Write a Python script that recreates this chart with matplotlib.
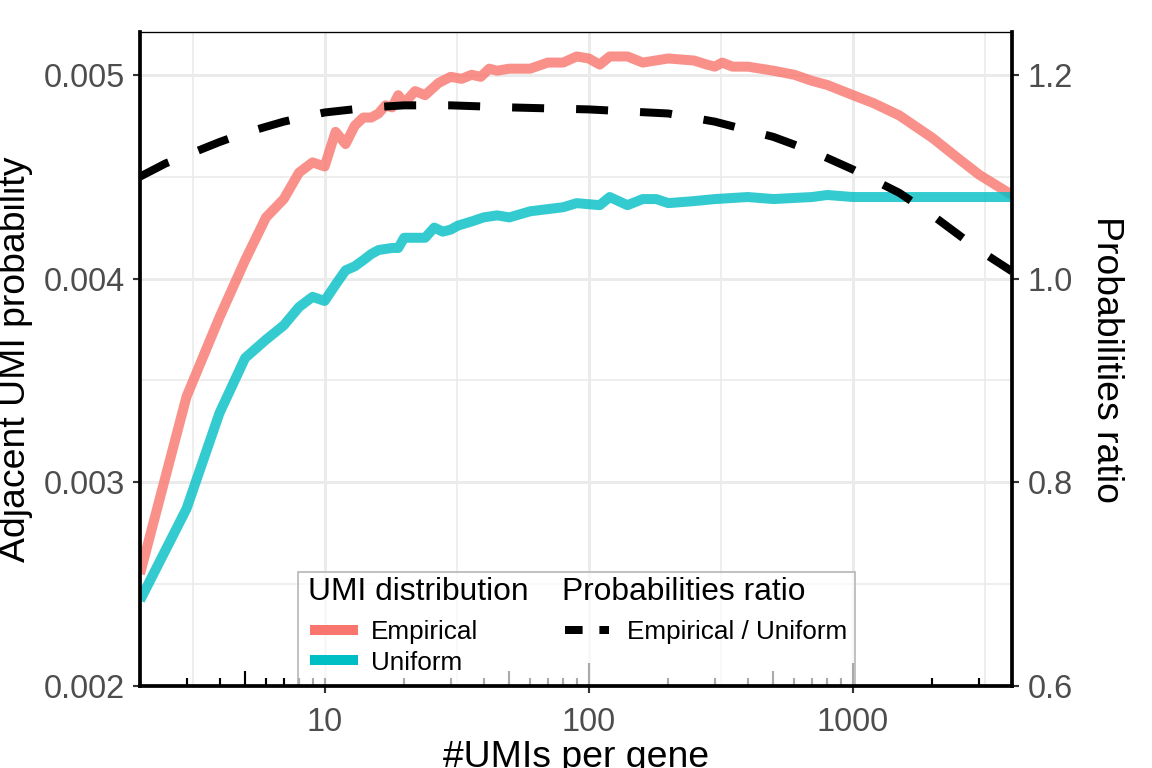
import matplotlib
matplotlib.use("Agg")
import matplotlib.pyplot as plt
from matplotlib.lines import Line2D
from matplotlib.patches import Rectangle
from matplotlib.ticker import FixedLocator, NullFormatter, FormatStrFormatter

plt.rcParams["font.family"] = ["Liberation Sans", "DejaVu Sans"]

# ── Data ───────────────────────────────────────────────────────
emp_x = [2, 3, 4, 5, 6, 7, 8, 9, 10, 11, 12, 13, 14, 15, 16, 17, 18, 19, 20,
         22, 24, 27, 30, 33, 36, 39, 42, 45, 50,
         60, 70, 80, 90, 100, 110, 120, 140, 160, 200,
         250, 280, 300, 320, 350, 400, 500, 600, 700, 800,
         1000, 1200, 1500, 2000, 2500, 3000, 4000]
emp_y = [0.00255, 0.00342, 0.00381, 0.00409, 0.00430, 0.00439, 0.00452, 0.00457, 0.00455,
         0.00472, 0.00466, 0.00475, 0.00479, 0.00479, 0.00481, 0.00485, 0.00484, 0.00490, 0.00486,
         0.00492, 0.00490, 0.00496, 0.00499, 0.00498, 0.00500, 0.00499, 0.00503, 0.00502, 0.00503,
         0.00503, 0.00506, 0.00506, 0.00509, 0.00508, 0.00505, 0.00509, 0.00509, 0.00506, 0.00508,
         0.00507, 0.00505, 0.00504, 0.00506, 0.00504, 0.00504, 0.00502, 0.00500, 0.00497, 0.00495,
         0.00490, 0.00486, 0.00480, 0.00469, 0.00459, 0.00451, 0.00441]

uni_x = [2, 3, 4, 5, 6, 7, 8, 9, 10, 11, 12, 13, 14, 15, 16, 18, 19, 20,
         22, 24, 26, 28, 30, 32, 36, 40, 45, 50, 60,
         80, 90, 110, 120, 140, 160, 180, 200,
         250, 300, 400, 500, 700, 800, 1000, 1200, 4000]
uni_y = [0.00242, 0.00287, 0.00334, 0.00361, 0.00370, 0.00377, 0.00386, 0.00391, 0.00389,
         0.00397, 0.00404, 0.00406, 0.00409, 0.00412, 0.00414, 0.00415, 0.00415, 0.00420,
         0.00420, 0.00420, 0.00425, 0.00423, 0.00424, 0.00426, 0.00428, 0.00430, 0.00431, 0.00430, 0.00433,
         0.00435, 0.00437, 0.00436, 0.00440, 0.00436, 0.00439, 0.00439, 0.00437,
         0.00438, 0.00439, 0.00440, 0.00439, 0.00440, 0.00441, 0.00440, 0.00440, 0.00440]

ratio_x = [2, 2.5, 3, 4, 5, 7, 10, 15, 20, 30, 50, 100, 200, 300, 500, 700,
           1000, 1500, 2000, 3000, 4000]
ratio_y = [1.100, 1.113, 1.121, 1.134, 1.143, 1.154, 1.163, 1.168, 1.170, 1.170, 1.168,
           1.166, 1.162, 1.154, 1.139, 1.125, 1.107, 1.084, 1.062, 1.028, 1.007]

x_ticks = [10, 100, 1000]
x_minor = [10 ** 0.5, 10 ** 1.5, 10 ** 2.5, 10 ** 3.5]
y_ticks = [0.002, 0.003, 0.004, 0.005]
y_minor = [0.0025, 0.0035, 0.0045]
ratio_ticks = [0.6, 0.8, 1.0, 1.2]

X_LIM = (2, 4000)
Y_LIM = (0.002, 0.00521)

EMP_COLOR = "#F8766D"
UNI_COLOR = "#00BFC4"
GRID = "#EBEBEB"

# ── Figure ─────────────────────────────────────────────────────
fig = plt.figure(figsize=(6, 4), dpi=192)
ax = fig.add_axes([140 / 1152, 82 / 768, 872 / 1152, 654 / 768])
ax2 = ax.twinx()

ax.set_xscale("log")
ax.set_xlim(*X_LIM)
ax.set_ylim(*Y_LIM)
# right axis is a linear map of the left one: ratio = 0.2 + 200 * p
ax2.set_ylim(0.2 + 200 * Y_LIM[0], 0.2 + 200 * Y_LIM[1])

ax.xaxis.set_major_locator(FixedLocator(x_ticks))
ax.xaxis.set_minor_locator(FixedLocator(x_minor))
ax.xaxis.set_major_formatter(FormatStrFormatter("%d"))
ax.xaxis.set_minor_formatter(NullFormatter())
ax.yaxis.set_major_locator(FixedLocator(y_ticks))
ax.yaxis.set_minor_locator(FixedLocator(y_minor))
ax.yaxis.set_major_formatter(FormatStrFormatter("%.3f"))
ax2.yaxis.set_major_locator(FixedLocator(ratio_ticks))
ax2.yaxis.set_major_formatter(FormatStrFormatter("%.1f"))

ax.grid(which="major", color=GRID, lw=1.1)
ax.grid(which="minor", color=GRID, lw=0.6)
ax.set_axisbelow(True)

for a in (ax, ax2):
    a.tick_params(which="major", length=2.75, width=0.8, color="#333333",
                  labelcolor="#4D4D4D", labelsize=12.2, pad=3)
    a.tick_params(which="minor", length=0)
ax.tick_params(axis="x", pad=5)

# spines live on the top axes so they stay above the legend box
for s in ax.spines.values():
    s.set_visible(False)
for name, lw in [("left", 1.4), ("bottom", 1.4), ("right", 1.4), ("top", 0.5)]:
    ax2.spines[name].set_visible(True)
    ax2.spines[name].set_color("black")
    ax2.spines[name].set_linewidth(lw)
    ax2.spines[name].set_zorder(10)

# curves
ax.plot(emp_x, emp_y, color=EMP_COLOR, alpha=0.8, lw=3.75,
        solid_capstyle="butt", solid_joinstyle="round", zorder=2)
ax.plot(uni_x, uni_y, color=UNI_COLOR, alpha=0.8, lw=3.75,
        solid_capstyle="butt", solid_joinstyle="round", zorder=2)
ax2.plot(ratio_x, ratio_y, color="black", lw=3, dashes=(4, 4),
         dash_capstyle="butt", zorder=2)

# annotation log ticks along the bottom
xt = ax2.get_xaxis_transform()
for dec in (1, 10, 100, 1000):
    for m in range(1, 10):
        v = m * dec
        if v < X_LIM[0] or v > X_LIM[1]:
            continue
        if v in (100, 1000):
            h = 0.0347
        elif m == 5:
            h = 0.0231
        else:
            h = 0.0116
        ax2.plot([v, v], [0, h], transform=xt, color="black", lw=0.8,
                 solid_capstyle="butt", zorder=3)

# legend box
box_x0 = (298 - 140) / 872
box_w = (855 - 298) / 872
box_h = (686 - 572) / 654
ax2.add_patch(Rectangle((box_x0, 0), box_w, box_h, transform=ax2.transAxes,
                        facecolor="white", alpha=0.67, edgecolor="none", zorder=4))
ax2.add_patch(Rectangle((box_x0, 0), box_w, box_h, transform=ax2.transAxes,
                        facecolor="none", edgecolor="#B3B3B3", lw=0.6, zorder=4))

title_y = (686 - 592) / 654
ax2.text((308 - 140) / 872, title_y, "UMI distribution", transform=ax2.transAxes,
         ha="left", va="center", fontsize=11.9, zorder=6)
ax2.text((562 - 140) / 872, title_y, "Probabilities ratio", transform=ax2.transAxes,
         ha="left", va="center", fontsize=11.9, zorder=6)

h_emp = Line2D([], [], color=EMP_COLOR, lw=3.75, solid_capstyle="butt")
h_uni = Line2D([], [], color=UNI_COLOR, lw=3.75, solid_capstyle="butt")
h_ratio = Line2D([], [], color="black", lw=3, dashes=(2.2, 2.1), dash_capstyle="butt")

leg_top = (686 - 620) / 654
leg1 = ax2.legend([h_emp, h_uni], ["Empirical", "Uniform"], loc="upper left",
                  bbox_to_anchor=((310 - 140) / 872, leg_top), frameon=False,
                  fontsize=9.8, handlelength=1.85, handletextpad=0.47,
                  labelspacing=0.25, borderpad=0, borderaxespad=0)
leg1.set_zorder(6)
ax2.add_artist(leg1)
leg2 = ax2.legend([h_ratio], ["Empirical / Uniform"], loc="upper left",
                  bbox_to_anchor=((565 - 140) / 872, leg_top), frameon=False,
                  fontsize=9.8, handlelength=1.7, handletextpad=0.68,
                  labelspacing=0.25, borderpad=0, borderaxespad=0)
leg2.set_zorder(6)

ax.set_xlabel("#UMIs per gene", fontsize=14, labelpad=1)
ax.set_ylabel("Adjacent UMI probability", fontsize=14, labelpad=4)
ax2.set_ylabel("Probabilities ratio", fontsize=14, rotation=270, va="bottom", labelpad=6)

fig.savefig("out.png", dpi=192)
